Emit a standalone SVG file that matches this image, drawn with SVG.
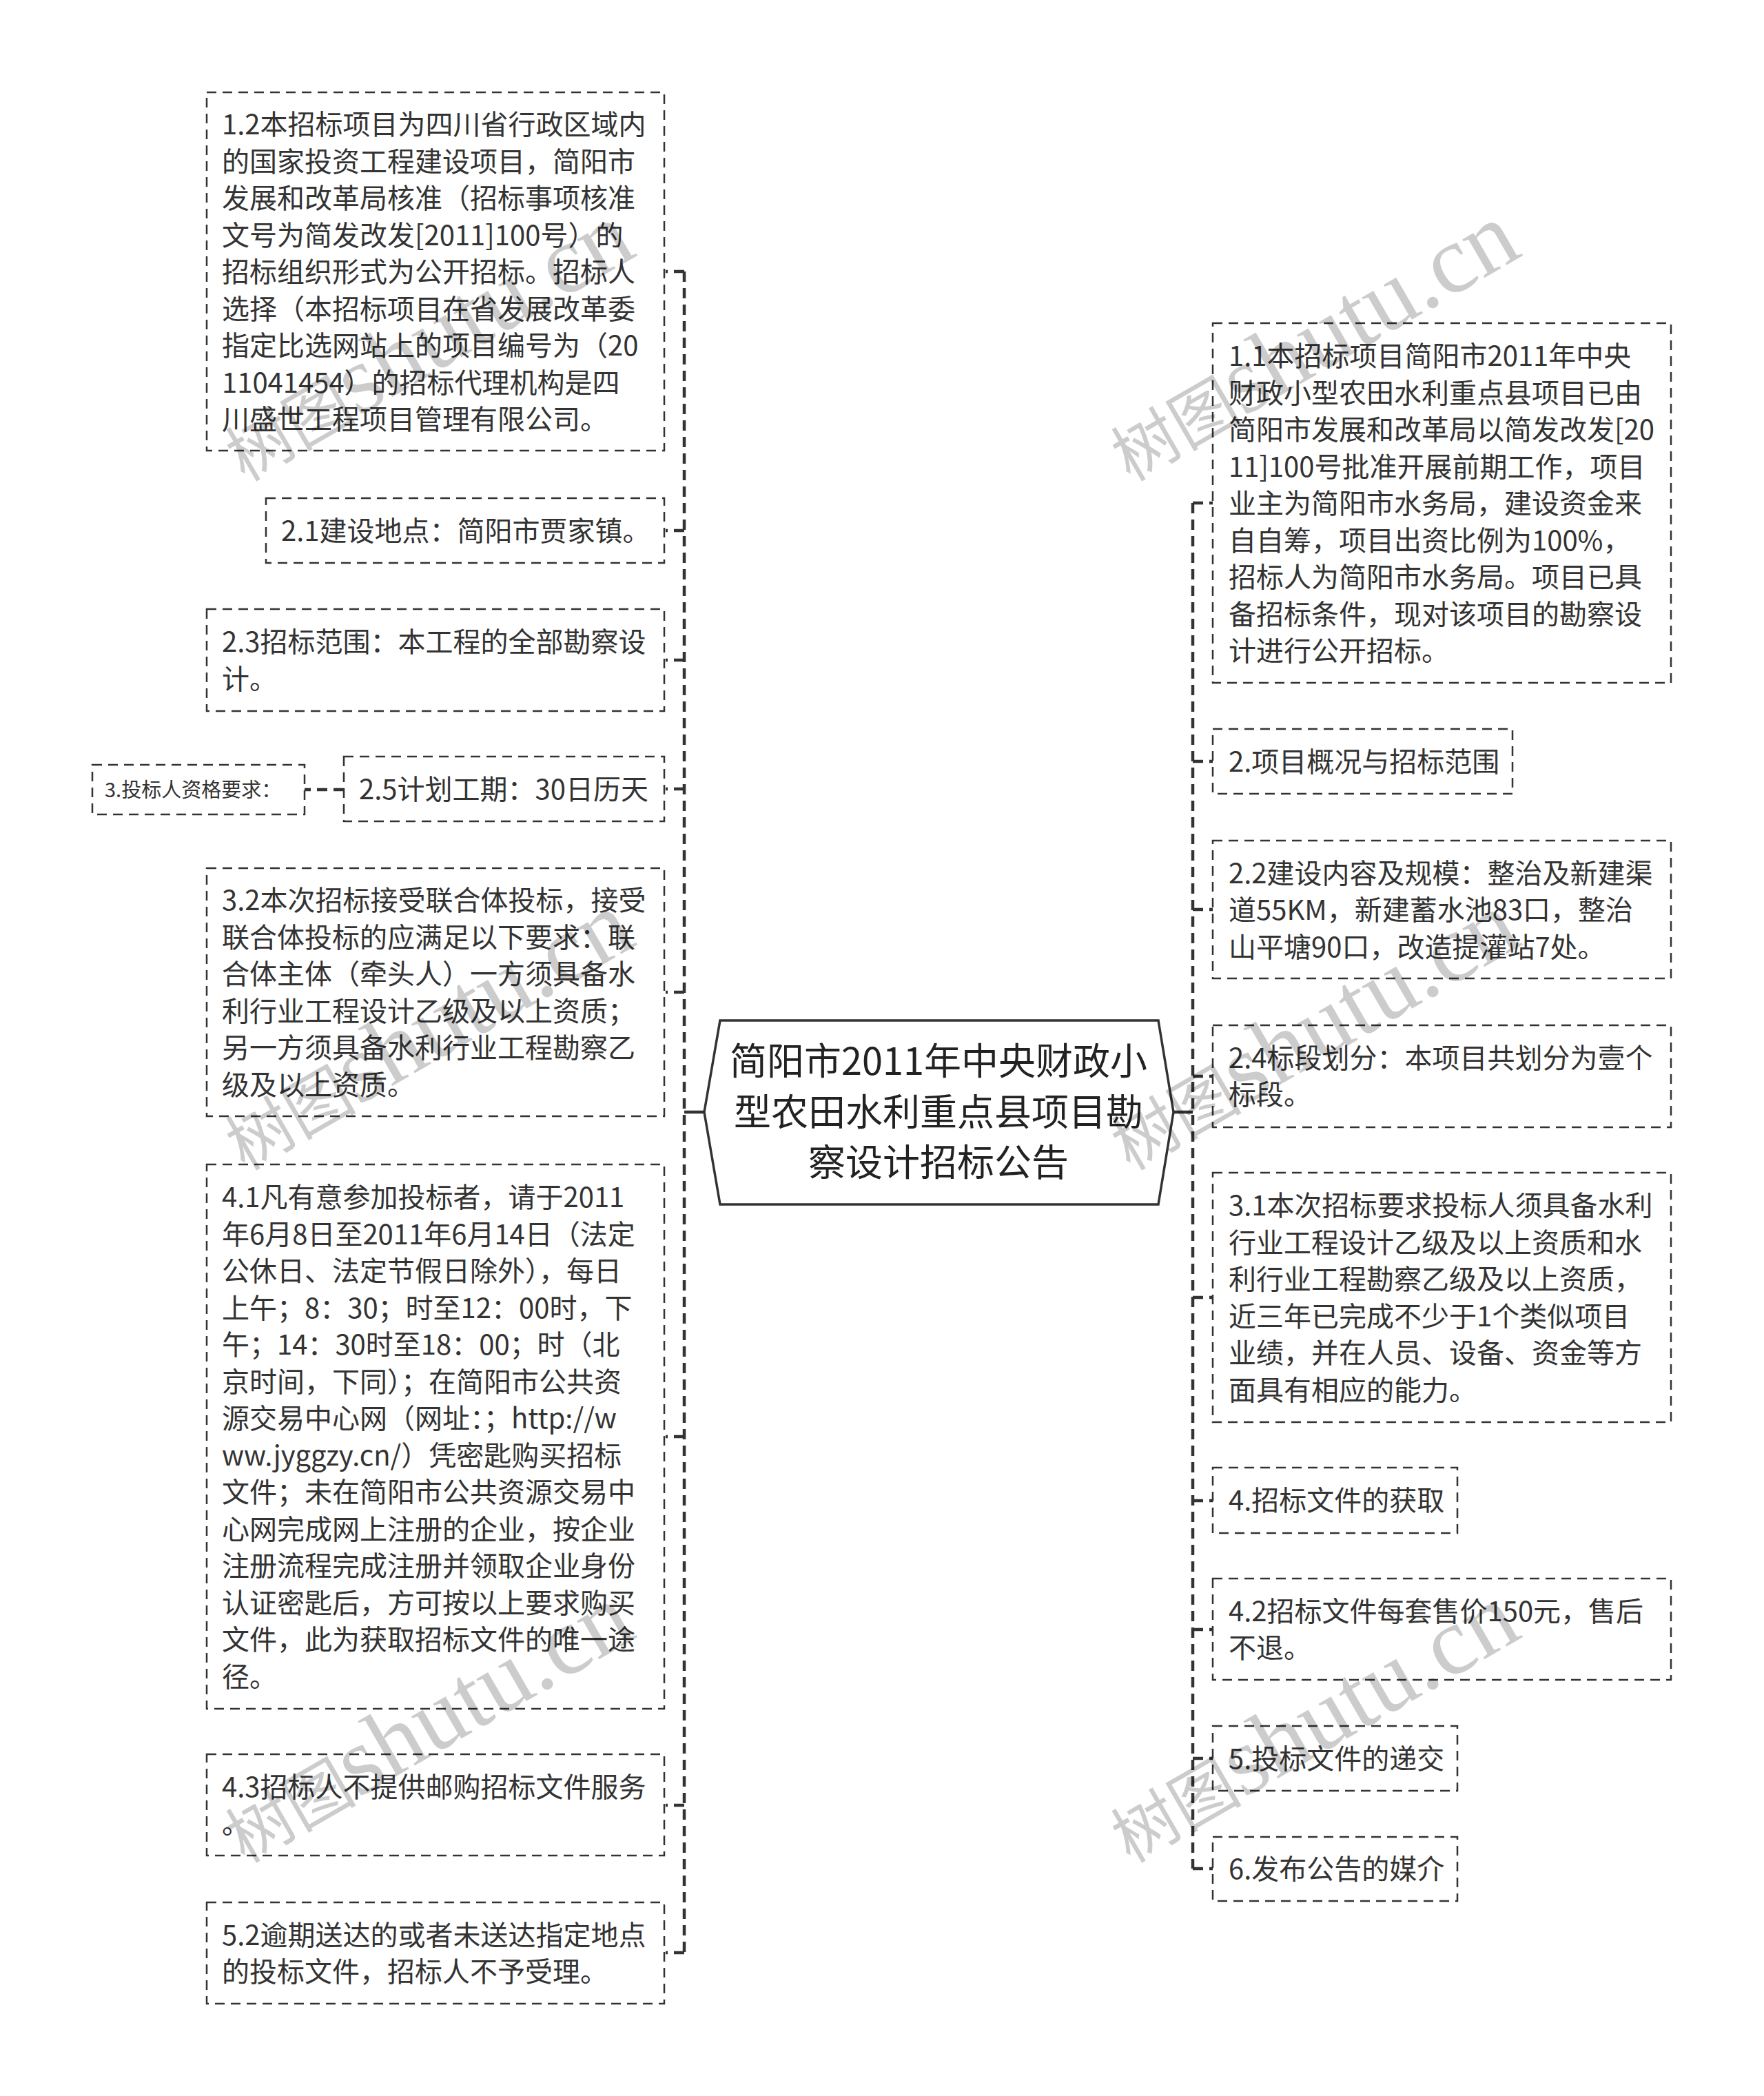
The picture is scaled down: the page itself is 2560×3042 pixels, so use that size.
<svg xmlns="http://www.w3.org/2000/svg" width="2560" height="3042" viewBox="0 0 2560 3042">
<style>
.box{fill:#fff;stroke:#333;stroke-width:2.5;stroke-dasharray:14 9}
.t{font-family:'Noto Sans CJK SC','Noto Sans',sans-serif;font-size:40px;fill:#333}
.ts{font-family:'Noto Sans CJK SC','Noto Sans',sans-serif;font-size:29px;fill:#333}
.title{font-family:'Noto Sans CJK SC','Noto Sans',sans-serif;font-size:54px;fill:#222;text-anchor:middle}
.conn{fill:none;stroke:#333;stroke-width:4.5;stroke-dasharray:15 9}
.solid{fill:none;stroke:#333;stroke-width:4.5}
.wm{font-family:'Liberation Serif','Noto Sans CJK SC',serif;fill:#000;fill-opacity:0.2}
</style>
<rect width="2560" height="3042" fill="#fff"/>
<g id="connectors">
<path class="solid" d="M993 1614H1022M1703 1614H1731"/>
<path class="conn" d="M993 394V2834"/>
<path class="conn" d="M993 394H966M993 770H966M993 958H966M993 1145H966M993 1440H966M993 2085H966M993 2620H966M993 2834H966"/>
<path class="conn" d="M499 1146H442"/>
<path class="conn" d="M1731 730V2712"/>
<path class="conn" d="M1731 730H1760M1731 1105H1760M1731 1320H1760M1731 1562H1760M1731 1883H1760M1731 2178H1760M1731 2365H1760M1731 2552H1760M1731 2712H1760"/>
</g>
<g id="root">
<polygon points="1022,1614 1045,1481 1681,1481 1703,1614 1681,1748 1045,1748" fill="#fff" stroke="#333" stroke-width="3.5"/>
<text class="title"><tspan x="1362" y="1560">简阳市2011年中央财政小</tspan><tspan x="1362" y="1634">型农田水利重点县项目勘</tspan><tspan x="1362" y="1707">察设计招标公告</tspan></text>
</g>
<g id="n1-2">
<rect class="box" x="300" y="134" width="664" height="520"/>
<text class="t"><tspan x="322" y="195">1.2本招标项目为四川省行政区域内</tspan><tspan x="322" y="248.5">的国家投资工程建设项目，简阳市</tspan><tspan x="322" y="302">发展和改革局核准（招标事项核准</tspan><tspan x="322" y="355.5">文号为简发改发[2011]100号）的</tspan><tspan x="322" y="409">招标组织形式为公开招标。招标人</tspan><tspan x="322" y="462.5">选择（本招标项目在省发展改革委</tspan><tspan x="322" y="516">指定比选网站上的项目编号为（20</tspan><tspan x="322" y="569.5">11041454）的招标代理机构是四</tspan><tspan x="322" y="623">川盛世工程项目管理有限公司。</tspan></text>
</g>
<g id="n2-1">
<rect class="box" x="386" y="723" width="578" height="94"/>
<text class="t"><tspan x="408" y="785">2.1建设地点：简阳市贾家镇。</tspan></text>
</g>
<g id="n2-3">
<rect class="box" x="300" y="884" width="664" height="148"/>
<text class="t"><tspan x="322" y="946">2.3招标范围：本工程的全部勘察设</tspan><tspan x="322" y="1000">计。</tspan></text>
</g>
<g id="n2-5">
<rect class="box" x="499" y="1098" width="465" height="94"/>
<text class="t"><tspan x="521" y="1160">2.5计划工期：30日历天</tspan></text>
</g>
<g id="n3">
<rect class="box" x="134" y="1110" width="308" height="72"/>
<text class="ts"><tspan x="152" y="1157">3.投标人资格要求：</tspan></text>
</g>
<g id="n3-2">
<rect class="box" x="300" y="1260" width="664" height="360"/>
<text class="t"><tspan x="322" y="1321">3.2本次招标接受联合体投标，接受</tspan><tspan x="322" y="1375">联合体投标的应满足以下要求：联</tspan><tspan x="322" y="1428">合体主体（牵头人）一方须具备水</tspan><tspan x="322" y="1482">利行业工程设计乙级及以上资质；</tspan><tspan x="322" y="1535">另一方须具备水利行业工程勘察乙</tspan><tspan x="322" y="1589">级及以上资质。</tspan></text>
</g>
<g id="n4-1">
<rect class="box" x="300" y="1690" width="664" height="790"/>
<text class="t"><tspan x="322" y="1752">4.1凡有意参加投标者，请于2011</tspan><tspan x="322" y="1805.5">年6月8日至2011年6月14日（法定</tspan><tspan x="322" y="1859">公休日、法定节假日除外），每日</tspan><tspan x="322" y="1912.5">上午；8：30；时至12：00时，下</tspan><tspan x="322" y="1966">午；14：30时至18：00；时（北</tspan><tspan x="322" y="2019.5">京时间，下同）；在简阳市公共资</tspan><tspan x="322" y="2073">源交易中心网（网址：；http://w</tspan><tspan x="322" y="2126.5">ww.jyggzy.cn/）凭密匙购买招标</tspan><tspan x="322" y="2180">文件；未在简阳市公共资源交易中</tspan><tspan x="322" y="2233.5">心网完成网上注册的企业，按企业</tspan><tspan x="322" y="2287">注册流程完成注册并领取企业身份</tspan><tspan x="322" y="2340.5">认证密匙后，方可按以上要求购买</tspan><tspan x="322" y="2394">文件，此为获取招标文件的唯一途</tspan><tspan x="322" y="2447.5">径。</tspan></text>
</g>
<g id="n4-3">
<rect class="box" x="300" y="2546" width="664" height="147"/>
<text class="t"><tspan x="322" y="2608">4.3招标人不提供邮购招标文件服务</tspan><tspan x="322" y="2661">。</tspan></text>
</g>
<g id="n5-2">
<rect class="box" x="300" y="2761" width="664" height="147"/>
<text class="t"><tspan x="322" y="2823">5.2逾期送达的或者未送达指定地点</tspan><tspan x="322" y="2876">的投标文件，招标人不予受理。</tspan></text>
</g>
<g id="n1-1">
<rect class="box" x="1760" y="469" width="665" height="522"/>
<text class="t"><tspan x="1783" y="531">1.1本招标项目简阳市2011年中央</tspan><tspan x="1783" y="584.5">财政小型农田水利重点县项目已由</tspan><tspan x="1783" y="638">简阳市发展和改革局以简发改发[20</tspan><tspan x="1783" y="691.5">11]100号批准开展前期工作，项目</tspan><tspan x="1783" y="745">业主为简阳市水务局，建设资金来</tspan><tspan x="1783" y="798.5">自自筹，项目出资比例为100%，</tspan><tspan x="1783" y="852">招标人为简阳市水务局。项目已具</tspan><tspan x="1783" y="905.5">备招标条件，现对该项目的勘察设</tspan><tspan x="1783" y="959">计进行公开招标。</tspan></text>
</g>
<g id="n2">
<rect class="box" x="1760" y="1058" width="435" height="94"/>
<text class="t"><tspan x="1783" y="1120">2.项目概况与招标范围</tspan></text>
</g>
<g id="n2-2">
<rect class="box" x="1760" y="1220" width="665" height="200"/>
<text class="t"><tspan x="1783" y="1281.5">2.2建设内容及规模：整治及新建渠</tspan><tspan x="1783" y="1335">道55KM，新建蓄水池83口，整治</tspan><tspan x="1783" y="1388.5">山平塘90口，改造提灌站7处。</tspan></text>
</g>
<g id="n2-4">
<rect class="box" x="1760" y="1488" width="665" height="148"/>
<text class="t"><tspan x="1783" y="1550">2.4标段划分：本项目共划分为壹个</tspan><tspan x="1783" y="1603">标段。</tspan></text>
</g>
<g id="n3-1">
<rect class="box" x="1760" y="1702" width="665" height="362"/>
<text class="t"><tspan x="1783" y="1764">3.1本次招标要求投标人须具备水利</tspan><tspan x="1783" y="1817.5">行业工程设计乙级及以上资质和水</tspan><tspan x="1783" y="1871">利行业工程勘察乙级及以上资质，</tspan><tspan x="1783" y="1924.5">近三年已完成不少于1个类似项目</tspan><tspan x="1783" y="1978">业绩，并在人员、设备、资金等方</tspan><tspan x="1783" y="2031.5">面具有相应的能力。</tspan></text>
</g>
<g id="n4">
<rect class="box" x="1760" y="2130" width="355" height="95"/>
<text class="t"><tspan x="1783" y="2192">4.招标文件的获取</tspan></text>
</g>
<g id="n4-2">
<rect class="box" x="1760" y="2291" width="665" height="147"/>
<text class="t"><tspan x="1783" y="2353">4.2招标文件每套售价150元，售后</tspan><tspan x="1783" y="2406">不退。</tspan></text>
</g>
<g id="n5">
<rect class="box" x="1760" y="2505" width="355" height="94"/>
<text class="t"><tspan x="1783" y="2567">5.投标文件的递交</tspan></text>
</g>
<g id="n6">
<rect class="box" x="1760" y="2666" width="355" height="93"/>
<text class="t"><tspan x="1783" y="2727">6.发布公告的媒介</tspan></text>
</g>
<g id="watermark">
<text class="wm" transform="translate(355 700) rotate(-30)"><tspan font-size="95">树图</tspan><tspan font-size="140">shutu.cn</tspan></text>
<text class="wm" transform="translate(1640 700) rotate(-30)"><tspan font-size="95">树图</tspan><tspan font-size="140">shutu.cn</tspan></text>
<text class="wm" transform="translate(355 1700) rotate(-30)"><tspan font-size="95">树图</tspan><tspan font-size="140">shutu.cn</tspan></text>
<text class="wm" transform="translate(1640 1700) rotate(-30)"><tspan font-size="95">树图</tspan><tspan font-size="140">shutu.cn</tspan></text>
<text class="wm" transform="translate(355 2705) rotate(-30)"><tspan font-size="95">树图</tspan><tspan font-size="140">shutu.cn</tspan></text>
<text class="wm" transform="translate(1640 2705) rotate(-30)"><tspan font-size="95">树图</tspan><tspan font-size="140">shutu.cn</tspan></text>
</g>
</svg>
